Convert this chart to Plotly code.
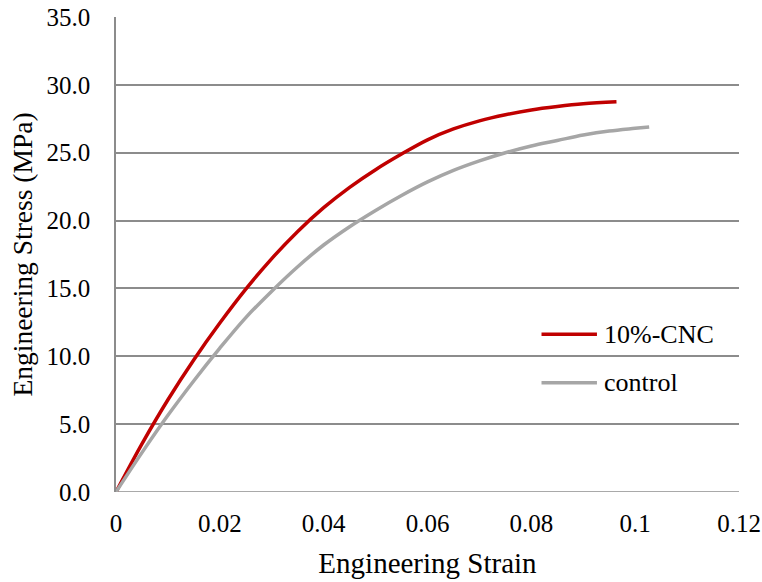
import plotly.graph_objects as go

# Tensile test curves: engineering strain vs engineering stress (MPa)
cnc_name = "10%-CNC"
cnc_strain = [0, 0.005, 0.01, 0.015, 0.02, 0.025, 0.03, 0.035, 0.04, 0.045,
              0.05, 0.055, 0.06, 0.065, 0.07, 0.075, 0.08, 0.085, 0.09, 0.0964]
cnc_stress = [0, 3.55, 6.8, 9.75, 12.45, 14.95, 17.2, 19.2, 20.95, 22.45,
              23.75, 24.9, 25.95, 26.75, 27.35, 27.8, 28.15, 28.4, 28.6, 28.75]

ctrl_name = "control"
ctrl_strain = [0, 0.005, 0.01, 0.015, 0.02, 0.025, 0.03, 0.035, 0.04, 0.045,
               0.05, 0.055, 0.06, 0.065, 0.07, 0.075, 0.08, 0.085, 0.09, 0.095,
               0.1, 0.1027]
ctrl_stress = [0, 2.9, 5.65, 8.2, 10.6, 12.85, 14.8, 16.6, 18.2, 19.55,
               20.75, 21.85, 22.85, 23.7, 24.4, 25.0, 25.5, 25.9, 26.3, 26.6,
               26.8, 26.9]

x_ticks = [0, 0.02, 0.04, 0.06, 0.08, 0.1, 0.12]
x_tick_text = ["0", "0.02", "0.04", "0.06", "0.08", "0.1", "0.12"]
y_ticks = [0, 5, 10, 15, 20, 25, 30, 35]
y_tick_text = [f"{v:.1f}" for v in y_ticks]

FONT = "Liberation Serif"
GRID = "#8c8c8c"
RED = "#c00000"
GREY = "#a6a6a6"

fig = go.Figure()
fig.add_trace(go.Scatter(x=cnc_strain, y=cnc_stress, mode="lines", name=cnc_name,
                         line=dict(color=RED, width=3.5, shape="spline", smoothing=1)))
fig.add_trace(go.Scatter(x=ctrl_strain, y=ctrl_stress, mode="lines", name=ctrl_name,
                         line=dict(color=GREY, width=3.5, shape="spline", smoothing=1)))

fig.update_layout(
    width=762, height=582,
    margin=dict(l=116, r=23, t=17, b=90),
    paper_bgcolor="white", plot_bgcolor="white",
    font=dict(family=FONT, size=25, color="black"),
    showlegend=False,
    xaxis=dict(range=[0, 0.12], tickvals=x_ticks, ticktext=x_tick_text,
               automargin=False,
               showgrid=False, zeroline=False, showline=False, ticks="",
               ticklabelstandoff=14, tickfont=dict(family=FONT, size=25),
               title=dict(text="Engineering Strain", font=dict(family=FONT, size=29),
                          standoff=16)),
    yaxis=dict(range=[0, 35], tickvals=y_ticks, ticktext=y_tick_text,
               automargin=False,
               showgrid=True, gridcolor=GRID, gridwidth=1.5,
               zeroline=False, showline=True, linecolor=GRID, linewidth=1.5,
               ticks="", ticklabelstandoff=19, tickfont=dict(family=FONT, size=25),
               title=dict(text="Engineering Stress (MPa)", font=dict(family=FONT, size=27.5),
                          standoff=6)),
)
fig.add_hline(y=0, line=dict(color=GRID, width=1.5), layer="below")

# In-plot legend: short line sample followed by the series name
legend_rows = [(cnc_name, RED, 0.332), (ctrl_name, GREY, 0.230)]
for name, color, ypos in legend_rows:
    fig.add_shape(type="line", xref="paper", yref="paper",
                  x0=0.683, x1=0.772, y0=ypos, y1=ypos,
                  line=dict(color=color, width=3.5))
    fig.add_annotation(xref="paper", yref="paper", x=0.780, y=ypos,
                       text=name, showarrow=False, xanchor="left", yanchor="middle",
                       font=dict(family=FONT, size=26, color="black"))

fig.write_html("out.html")
